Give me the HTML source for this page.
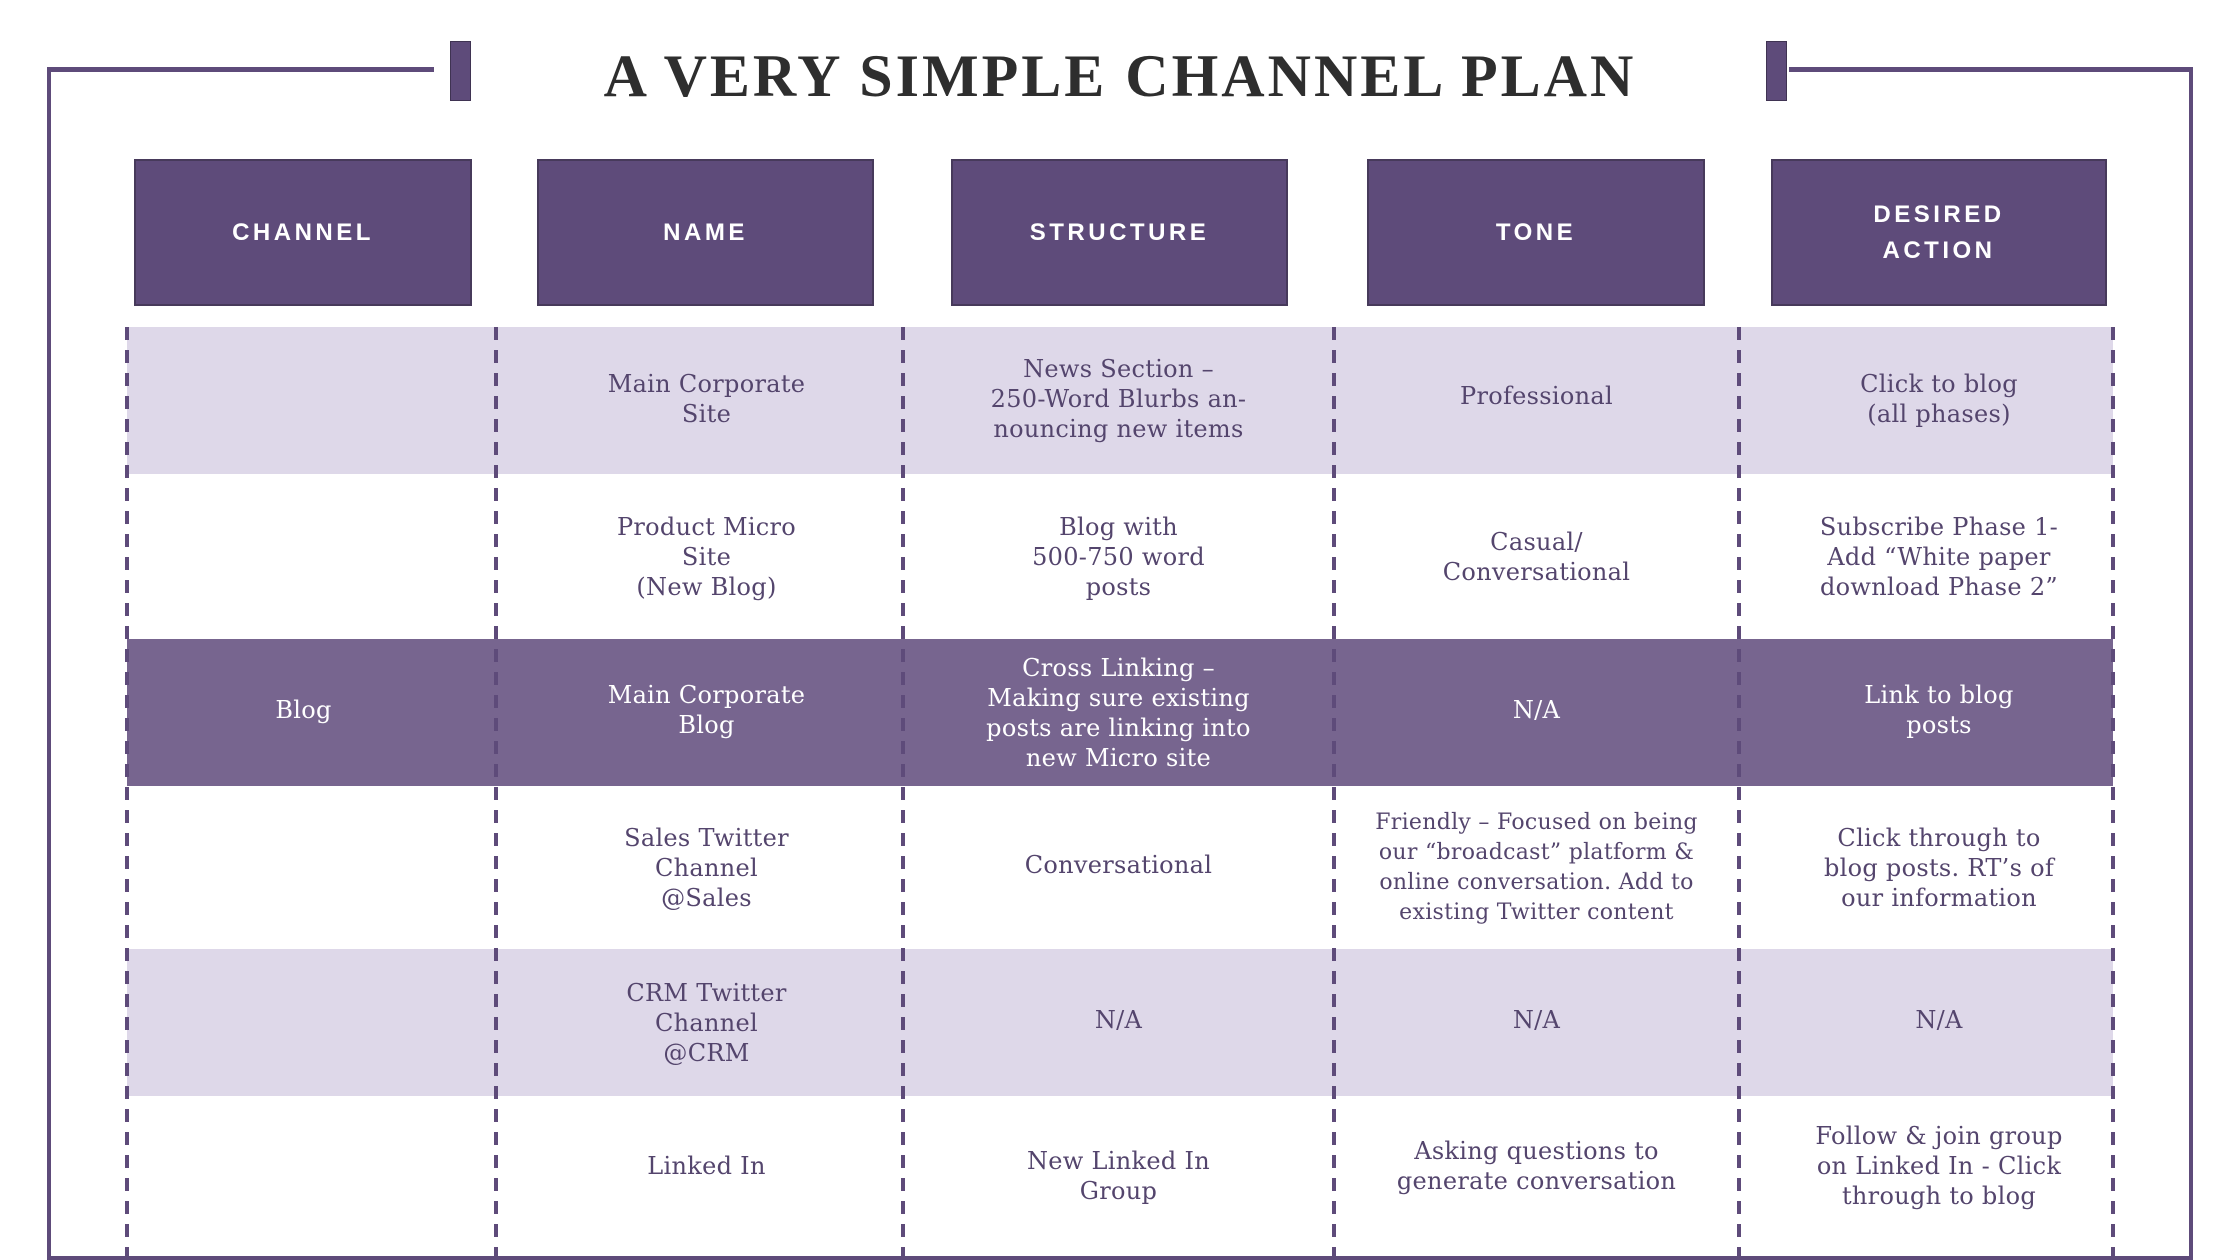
<!DOCTYPE html>
<html><head><meta charset="utf-8"><style>
*{margin:0;padding:0;box-sizing:border-box}
body{width:2240px;height:1260px;background:#fff;position:relative;overflow:hidden;font-family:"DejaVu Serif","Liberation Serif",serif}
.a{position:absolute}
.ln{position:absolute;background:#5e4b7a}
.title{position:absolute;left:0;width:2240px;top:42px;text-align:center;font-family:"Liberation Serif",serif;font-weight:bold;font-size:60px;letter-spacing:3px;color:#2e2e2e}
.hd{position:absolute;top:159px;height:147px;background:#5e4b7a;border:2px solid #473a5b;color:#fff;font-family:"Liberation Sans",sans-serif;font-weight:bold;font-size:24px;letter-spacing:3.5px;display:flex;align-items:center;justify-content:center;text-align:center;line-height:36px}
.row{position:absolute;left:127px;width:1986px}
.cell{position:absolute;display:flex;align-items:center;justify-content:center;text-align:center;font-size:24px;line-height:30px;color:#54456d;letter-spacing:0.3px}
.w{color:#fff}
.dv{position:absolute;top:327px;height:933px;width:4px;background:repeating-linear-gradient(to bottom,#5e4b7a 0 13px,transparent 13px 23px)}
</style></head><body>
<div class="ln" style="left:47px;top:67px;width:4px;height:1193px"></div>
<div class="ln" style="left:47px;top:67px;width:387px;height:5px"></div>
<div class="ln" style="left:1789px;top:67px;width:404px;height:5px"></div>
<div class="ln" style="left:2189px;top:67px;width:4px;height:1193px"></div>
<div class="ln" style="left:47px;top:1256px;width:2146px;height:4px"></div>
<div class="ln" style="left:450px;top:41px;width:21px;height:60px;border:1px solid #3f3352"></div>
<div class="ln" style="left:1766px;top:41px;width:21px;height:60px;border:1px solid #3f3352"></div>
<div class="title">A VERY SIMPLE CHANNEL PLAN</div>

<div class="hd" style="left:134px;width:338px">CHANNEL</div>
<div class="hd" style="left:537px;width:337px">NAME</div>
<div class="hd" style="left:951px;width:337px">STRUCTURE</div>
<div class="hd" style="left:1367px;width:338px">TONE</div>
<div class="hd" style="left:1771px;width:336px">DESIRED<br>ACTION</div>

<div class="row" style="top:327px;height:147px;background:#ded8e9"></div>
<div class="row" style="top:639px;height:147px;background:#77658f"></div>
<div class="row" style="top:949px;height:147px;background:#ded8e9"></div>

<div class="dv" style="left:125px"></div>
<div class="dv" style="left:494px"></div>
<div class="dv" style="left:901px"></div>
<div class="dv" style="left:1332px"></div>
<div class="dv" style="left:1737px"></div>
<div class="dv" style="left:2111px"></div>

<!-- row 1 -->
<div class="cell" style="left:503px;width:407px;top:325px;height:147px">Main Corporate<br>Site</div>
<div class="cell" style="left:903px;width:431px;top:325px;height:147px">News Section –<br>250-Word Blurbs an-<br>nouncing new items</div>
<div class="cell" style="left:1334px;width:405px;top:322px;height:147px">Professional</div>
<div class="cell" style="left:1752px;width:374px;top:325px;height:147px">Click to blog<br>(all phases)</div>
<!-- row 2 -->
<div class="cell" style="left:503px;width:407px;top:474px;height:165px">Product Micro<br>Site<br>(New Blog)</div>
<div class="cell" style="left:903px;width:431px;top:474px;height:165px">Blog with<br>500-750 word<br>posts</div>
<div class="cell" style="left:1334px;width:405px;top:474px;height:165px">Casual/<br>Conversational</div>
<div class="cell" style="left:1752px;width:374px;top:474px;height:165px">Subscribe Phase 1-<br>Add “White paper<br>download Phase 2”</div>
<!-- row 3 -->
<div class="cell w" style="left:119px;width:369px;top:636px;height:147px">Blog</div>
<div class="cell w" style="left:503px;width:407px;top:636px;height:147px">Main Corporate<br>Blog</div>
<div class="cell w" style="left:903px;width:431px;top:639px;height:147px">Cross Linking –<br>Making sure existing<br>posts are linking into<br>new Micro site</div>
<div class="cell w" style="left:1334px;width:405px;top:636px;height:147px">N/A</div>
<div class="cell w" style="left:1752px;width:374px;top:636px;height:147px">Link to blog<br>posts</div>
<!-- row 4 -->
<div class="cell" style="left:503px;width:407px;top:786px;height:163px">Sales Twitter<br>Channel<br>@Sales</div>
<div class="cell" style="left:903px;width:431px;top:783px;height:163px">Conversational</div>
<div class="cell" style="left:1334px;width:405px;top:786px;height:163px;font-size:22px">Friendly – Focused on being<br>our “broadcast” platform &amp;<br>online conversation. Add to<br>existing Twitter content</div>
<div class="cell" style="left:1752px;width:374px;top:786px;height:163px">Click through to<br>blog posts. RT’s of<br>our information</div>
<!-- row 5 -->
<div class="cell" style="left:503px;width:407px;top:949px;height:147px">CRM Twitter<br>Channel<br>@CRM</div>
<div class="cell" style="left:903px;width:431px;top:946px;height:147px">N/A</div>
<div class="cell" style="left:1334px;width:405px;top:946px;height:147px">N/A</div>
<div class="cell" style="left:1752px;width:374px;top:946px;height:147px">N/A</div>
<!-- row 6 -->
<div class="cell" style="left:503px;width:407px;top:1096px;height:140px">Linked In</div>
<div class="cell" style="left:903px;width:431px;top:1096px;height:160px">New Linked In<br>Group</div>
<div class="cell" style="left:1334px;width:405px;top:1096px;height:140px">Asking questions to<br>generate conversation</div>
<div class="cell" style="left:1752px;width:374px;top:1096px;height:140px">Follow &amp; join group<br>on Linked In - Click<br>through to blog</div>
</body></html>
